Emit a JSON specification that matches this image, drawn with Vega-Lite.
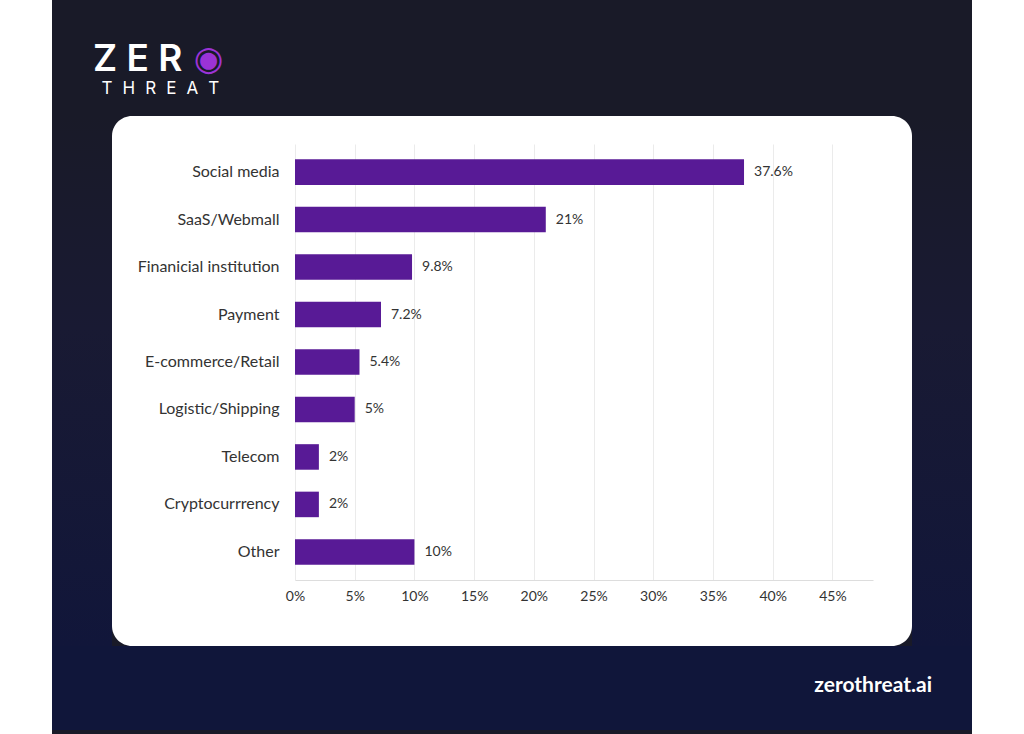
{
  "$schema": "https://vega.github.io/schema/vega-lite/v6.json",
  "background": "#191a28",
  "padding": 0,
  "spacing": 0,
  "config": {
    "view": {"stroke": null},
    "concat": {"spacing": 0},
    "font": "Lato"
  },
  "hconcat": [
    {
      "width": 52, "height": 734,
      "view": {"fill": "#ffffff", "stroke": null},
      "data": {"values": [{}]},
      "mark": {"type": "text", "text": ""}
    },
    {
      "spacing": 0,
      "vconcat": [
        {
          "spacing": 0,
          "bounds": "flush",
          "hconcat": [
            {
              "width": 141, "height": 116,
              "view": {"stroke": null, "fill": null},
              "title": {
                "text": "Z E R",
                "subtitle": "\u200b\u2002T\u2002\u200aH\u2002\u200aR\u2002\u200aE\u2002\u200aA\u2002\u200aT",
                "orient": "bottom", "anchor": "start", "frame": "group",
                "offset": -74, "dx": 41,
                "font": "Inter", "fontSize": 37, "fontWeight": 600, "color": "#ffffff",
                "subtitleFont": "Inter", "subtitleFontSize": 17, "subtitleColor": "#ffffff", "subtitlePadding": 2
              },
              "data": {"values": [{}]},
              "mark": {"type": "text", "text": ""}
            },
            {
              "width": 31, "height": 116,
              "view": {"stroke": null, "fill": null},
              "title": {
                "text": "◉", "orient": "bottom", "anchor": "middle", "frame": "group",
                "offset": -73,
                "font": "DejaVu Sans", "fontSize": 34, "fontWeight": "normal", "color": "#9b33d6"
              },
              "data": {"values": [{}]},
              "mark": {"type": "text", "text": ""}
            },
            {
              "width": 748, "height": 116,
              "view": {"stroke": null, "fill": null},
              "data": {"values": [{}]},
              "mark": {"type": "text", "text": ""}
            }
          ]
        },
        {
          "spacing": 0,
          "bounds": "flush",
          "hconcat": [
            {
              "width": 60, "height": 530,
              "view": {"stroke": null, "fill": {"gradient": "linear", "x1": 0, "y1": 0, "x2": 0, "y2": 1, "stops": [{"offset": 0, "color": "#191a28"}, {"offset": 0.4, "color": "#191a33"}, {"offset": 1, "color": "#11163a"}]}},
              "data": {"values": [{}]},
              "mark": {"type": "text", "text": ""}
            },
            {
              "width": 800, "height": 530,
              "view": {"fill": "#ffffff", "cornerRadius": 20, "stroke": null},
              "data": {"values": [
                {"sector": "Social media", "share": 0.376},
                {"sector": "SaaS/Webmall", "share": 0.21},
                {"sector": "Finanicial institution", "share": 0.098},
                {"sector": "Payment", "share": 0.072},
                {"sector": "E-commerce/Retail", "share": 0.054},
                {"sector": "Logistic/Shipping", "share": 0.05},
                {"sector": "Telecom", "share": 0.02},
                {"sector": "Cryptocurrrency", "share": 0.02},
                {"sector": "Other", "share": 0.1}
              ]},
              "encoding": {
                "y": {
                  "field": "sector", "type": "nominal", "sort": null, "title": null,
                  "scale": {"range": [28, 464], "paddingInner": 0.462, "paddingOuter": 0.323},
                  "axis": {"orient": "left", "offset": -177, "domain": false, "ticks": false, "tickSize": 0, "labelPadding": 10, "labelFont": "Lato", "labelFontSize": 16, "labelColor": "#333333", "grid": false, "labelLimit": 300}
                }
              },
              "layer": [
                {
                  "mark": {"type": "bar", "color": "#581a96"},
                  "encoding": {
                    "x": {
                      "field": "share", "type": "quantitative",
                      "scale": {"domain": [0, 0.484], "range": [183, 761], "nice": false},
                      "axis": {"orient": "bottom", "offset": -66, "values": [0, 0.05, 0.1, 0.15, 0.2, 0.25, 0.3, 0.35, 0.4, 0.45], "format": ".0%", "grid": false, "ticks": false, "tickSize": 0, "labelPadding": 9, "domainColor": "#dddddd", "domainWidth": 1, "labelFont": "Lato", "labelFontSize": 14, "labelColor": "#333333", "labelFlush": false, "labelOverlap": false, "title": null}
                    }
                  }
                },
                {
                  "mark": {"type": "text", "align": "left", "baseline": "middle", "dx": 10, "font": "Lato", "fontSize": 14, "color": "#333333"},
                  "encoding": {
                    "x": {
                      "field": "share", "type": "quantitative",
                      "axis": {"orient": "top", "values": [0, 0.05, 0.1, 0.15, 0.2, 0.25, 0.3, 0.35, 0.4, 0.45], "grid": true, "gridColor": "#ebebeb", "gridWidth": 1, "labels": false, "ticks": false, "tickSize": 0, "domain": false, "title": null}
                    },
                    "text": {"field": "share", "format": ".1~%"}
                  }
                }
              ],
              "resolve": {"axis": {"x": "independent"}}
            },
            {
              "width": 60, "height": 530,
              "view": {"stroke": null, "fill": {"gradient": "linear", "x1": 0, "y1": 0, "x2": 0, "y2": 1, "stops": [{"offset": 0, "color": "#191a28"}, {"offset": 0.4, "color": "#191a33"}, {"offset": 1, "color": "#11163a"}]}},
              "data": {"values": [{}]},
              "mark": {"type": "text", "text": ""}
            }
          ]
        },
        {
          "width": 920, "height": 84,
          "view": {"fill": "#10163a", "stroke": null},
          "title": {
            "text": "zerothreat.ai", "orient": "bottom", "anchor": "end", "frame": "group",
            "offset": -55, "dx": -40,
            "font": "Lato", "fontSize": 21, "fontWeight": "bold", "color": "#ffffff"
          },
          "data": {"values": [{}]},
          "mark": {"type": "text", "text": ""}
        },
        {
          "width": 920, "height": 4,
          "view": {"fill": "#ffffff", "stroke": null},
          "data": {"values": [{}]},
          "mark": {"type": "text", "text": ""}
        }
      ]
    },
    {
      "width": 52, "height": 734,
      "view": {"fill": "#ffffff", "stroke": null},
      "data": {"values": [{}]},
      "mark": {"type": "text", "text": ""}
    }
  ]
}
